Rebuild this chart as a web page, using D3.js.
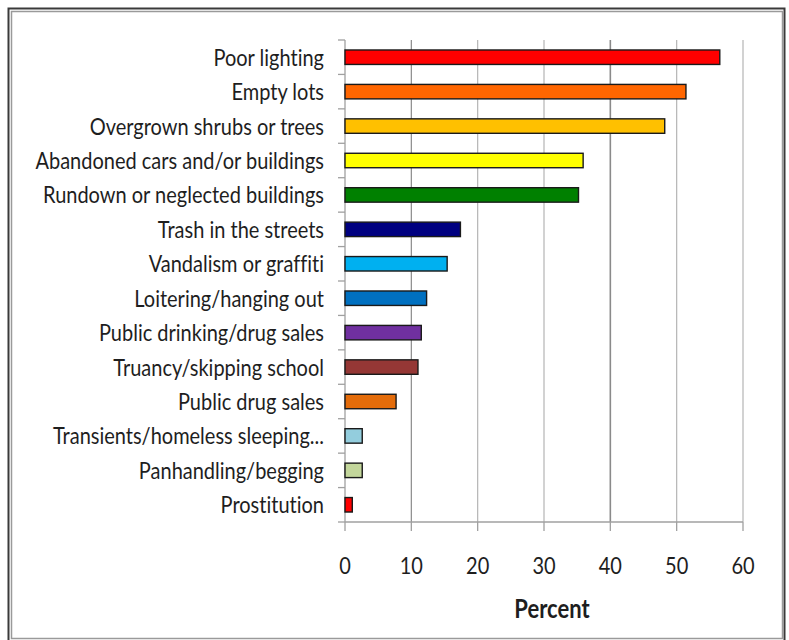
<!DOCTYPE html>
<html>
<head>
<meta charset="utf-8">
<script src="https://cdn.jsdelivr.net/npm/d3@7"></script>
<style>
  html, body { margin: 0; padding: 0; background: #fff; }
  svg { display: block; }
  text { font-family: Lato, "Open Sans", sans-serif; fill: #1e1e1e; font-variant-ligatures: none; }
</style>
</head>
<body>
<svg id="chart" width="789" height="640"></svg>
<script>
// Neighbourhood conditions, percent of respondents
const categories = [
  "Poor lighting",
  "Empty lots",
  "Overgrown shrubs or trees",
  "Abandoned cars and/or buildings",
  "Rundown or neglected buildings",
  "Trash in the streets",
  "Vandalism or graffiti",
  "Loitering/hanging out",
  "Public drinking/drug sales",
  "Truancy/skipping school",
  "Public drug sales",
  "Transients/homeless sleeping...",
  "Panhandling/begging",
  "Prostitution"
];
const values = [56.5, 51.4, 48.2, 35.9, 35.2, 17.4, 15.4, 12.3, 11.5, 11.0, 7.7, 2.6, 2.6, 1.1];
const barColors = [
  "#FF0000", "#FF6600", "#FFC000", "#FFFF00", "#008000",
  "#000080", "#00B0F0", "#0070C0", "#7030A0", "#953735",
  "#E46C0A", "#93CDDD", "#C3D69B", "#FF0000"
];
const xTicks = [0, 10, 20, 30, 40, 50, 60];
const xTitle = "Percent";

const svg = d3.select("#chart");
const plot = { left: 345, right: 743, top: 40, bottom: 522 };
const textStretch = 1.18;

// outer double frame
svg.append("rect").attr("x", 8.5).attr("y", 8.5).attr("width", 776).attr("height", 640)
  .attr("fill", "none").attr("stroke", "#3a3a3a").attr("stroke-width", 2);
svg.append("rect").attr("x", 11.5).attr("y", 11.5).attr("width", 771).attr("height", 627)
  .attr("fill", "none").attr("stroke", "#9a9a9a").attr("stroke-width", 1.5);

const x = d3.scaleLinear().domain([0, 60]).range([plot.left, plot.right]);
const y = d3.scaleBand().domain(categories).range([plot.top, plot.bottom])
  .paddingInner(0.58).paddingOuter(0.29);

// vertical gridlines
svg.append("g").selectAll("line").data(xTicks.slice(1)).join("line")
  .attr("x1", d => x(d)).attr("x2", d => x(d))
  .attr("y1", plot.top).attr("y2", plot.bottom)
  .attr("stroke", d => (d === 10 || d === 40) ? "#8a8a8a" : "#b4b4b4")
  .attr("stroke-width", d => d === 40 ? 1.6 : 1.2);

// category axis: line plus boundary ticks
const step = y.step();
const bounds = categories.map(c => y(c) - step * y.paddingOuter());
bounds.push(plot.bottom);
svg.append("line").attr("x1", plot.left).attr("x2", plot.left)
  .attr("y1", plot.top).attr("y2", plot.bottom)
  .attr("stroke", "#a0a0a0").attr("stroke-width", 1.3);
svg.append("g").selectAll("line").data(bounds).join("line")
  .attr("x1", plot.left - 7).attr("x2", plot.left)
  .attr("y1", d => d).attr("y2", d => d)
  .attr("stroke", "#a0a0a0").attr("stroke-width", 1.3);

// value axis
svg.append("line").attr("x1", plot.left).attr("x2", plot.right)
  .attr("y1", plot.bottom).attr("y2", plot.bottom)
  .attr("stroke", "#a0a0a0").attr("stroke-width", 1.3);
svg.append("g").selectAll("line").data(xTicks).join("line")
  .attr("x1", d => x(d)).attr("x2", d => x(d))
  .attr("y1", plot.bottom).attr("y2", plot.bottom + 9)
  .attr("stroke", "#a0a0a0").attr("stroke-width", 1.3);

// bars
svg.append("g").selectAll("rect").data(categories).join("rect")
  .attr("x", x(0))
  .attr("y", d => y(d))
  .attr("width", (d, i) => x(values[i]) - x(0))
  .attr("height", y.bandwidth())
  .attr("fill", (d, i) => barColors[i])
  .attr("stroke", "#1a1a1a").attr("stroke-width", 1.4);

// category labels
svg.append("g").selectAll("text").data(categories).join("text")
  .attr("transform", d => `translate(${plot.left - 21},${y(d) + y.bandwidth() / 2 + 8.5}) scale(1,${textStretch})`)
  .attr("text-anchor", "end")
  .attr("font-size", 20)
  .text(d => d);

// tick labels
svg.append("g").selectAll("text").data(xTicks).join("text")
  .attr("transform", d => `translate(${x(d)},${plot.bottom + 52}) scale(1,${textStretch})`)
  .attr("text-anchor", "middle")
  .attr("font-size", 20)
  .text(d => d);

// axis title
svg.append("text")
  .attr("transform", `translate(${(x(0) + x(60)) / 2 + 8},${plot.bottom + 96}) scale(1,${textStretch})`)
  .attr("text-anchor", "middle")
  .attr("font-size", 22)
  .attr("font-weight", "bold")
  .text(xTitle);
</script>
</body>
</html>
